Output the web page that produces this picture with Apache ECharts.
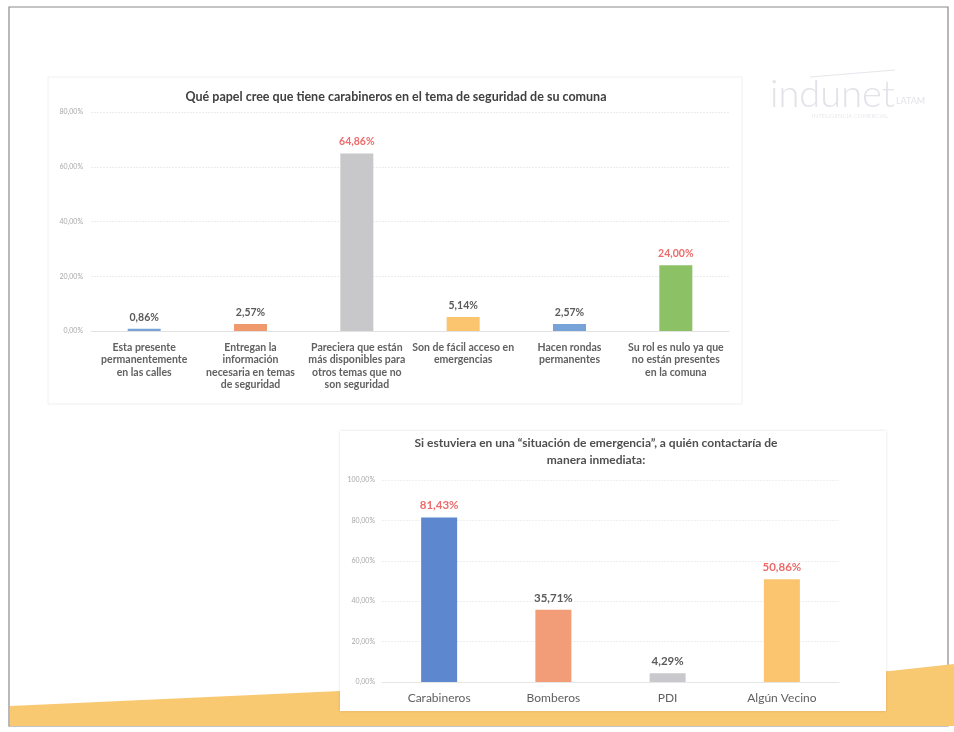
<!DOCTYPE html>
<html>
<head>
<meta charset="utf-8">
<script src="https://cdn.jsdelivr.net/npm/echarts@6/dist/echarts.min.js"></script>
<style>
html,body{margin:0;padding:0;background:#fff;}
#c{width:954px;height:732px;}
</style>
</head>
<body>
<div id="c"></div>
<script>
// ---- data ----
const title1 = 'Qué papel cree que tiene carabineros en el tema de seguridad de su comuna';
const categories1 = [
  'Esta presente\npermanentemente\nen las calles',
  'Entregan la\ninformación\nnecesaria en temas\nde seguridad',
  'Pareciera que están\nmás disponibles para\notros temas que no\nson seguridad',
  'Son de fácil acceso en\nemergencias',
  'Hacen rondas\npermanentes',
  'Su rol es nulo ya que\nno están presentes\nen la comuna'
];
const values1 = [0.86, 2.57, 64.86, 5.14, 2.57, 24.00];
const yTicks1 = [0, 20, 40, 60, 80];

const title2 = 'Si estuviera en una “situación de emergencia”, a quién contactaría de\nmanera inmediata:';
const categories2 = ['Carabineros', 'Bomberos', 'PDI', 'Algún Vecino'];
const values2 = [81.43, 35.71, 4.29, 50.86];
const yTicks2 = [0, 20, 40, 60, 80, 100];

// ---- styles ----
const colors1 = ['#78a3d9', '#f0996c', '#c8c8ca', '#fbc46e', '#78a3d9', '#8dc166'];
const colors2 = ['#5d88d0', '#f39c78', '#c9c9cd', '#fbc46e'];
const FONT = 'Lato, "Open Sans", sans-serif';

function pct(v) { return v.toFixed(2).replace('.', ',') + '%'; }
function topTwo(arr) {
  const s = arr.slice().sort((a, b) => b - a);
  return arr.map(v => v >= s[1]);
}
function barData(vals, cols) {
  const hi = topTwo(vals);
  return vals.map((v, i) => ({
    value: v,
    itemStyle: { color: cols[i] },
    label: { color: hi[i] ? '#ec6b6b' : '#5a5a5a' }
  }));
}

const chart = echarts.init(document.getElementById('c'), null, { renderer: 'canvas' });

const option = {
  backgroundColor: '#ffffff',
  animation: false,
  textStyle: { fontFamily: FONT },
  graphic: [
    // slide border
    { type: 'rect', z: -20, silent: true, shape: { x: 9, y: 7, width: 939, height: 719 },
      style: { fill: '#ffffff', stroke: '#8a8a8a', lineWidth: 1.2 } },
    // yellow wave
    { type: 'polygon', z: -15, silent: true,
      shape: { points: [[10, 706], [340, 691], [890, 671], [954, 664], [954, 726], [10, 726]] },
      style: { fill: '#f9c972' } },
    // chart 1 box
    { type: 'rect', z: -10, silent: true, shape: { x: 48, y: 77, width: 694, height: 327 },
      style: { fill: '#ffffff', stroke: '#f0f0f0', lineWidth: 1 } },
    // chart 2 box
    { type: 'rect', z: -10, silent: true, shape: { x: 340, y: 431, width: 546, height: 280 },
      style: { fill: '#ffffff', shadowBlur: 3, shadowColor: 'rgba(0,0,0,0.12)' } },
    // logo
    { type: 'line', z: -5, silent: true, shape: { x1: 810, y1: 77, x2: 895, y2: 70 },
      style: { stroke: '#e6e6ec', lineWidth: 1 } },
    { type: 'text', z: -5, silent: true, style: { x: 770, y: 76, text: 'indunet',
      font: '300 38px Lato, "Open Sans", sans-serif', fill: '#e2e2e8' } },
    { type: 'text', z: -5, silent: true, style: { x: 896, y: 97, text: 'LATAM',
      font: '9px Lato, sans-serif', fill: '#e2e2e8' } },
    { type: 'text', z: -5, silent: true, style: { x: 812, y: 113, text: 'INTELIGENCIA COMERCIAL',
      font: '6px Lato, sans-serif', fill: '#eaeaee' } },
    // titles
    { type: 'text', silent: true, style: { x: 396, y: 97, text: title1, align: 'center', verticalAlign: 'middle',
      font: 'bold 12.5px ' + FONT, fill: '#404040' } },
    { type: 'text', silent: true, style: { x: 596, y: 452, text: title2, align: 'center', verticalAlign: 'middle',
      font: 'bold 12px ' + FONT, fill: '#4f4f4f', lineHeight: 17 } }
  ],
  grid: [
    { left: 91, right: 225, top: 112, bottom: 401 },
    { left: 382, right: 115, top: 480, bottom: 50 }
  ],
  xAxis: [
    { type: 'category', gridIndex: 0, data: categories1,
      axisLine: { lineStyle: { color: '#e2e2e2' } }, axisTick: { show: false },
      axisLabel: { interval: 0, color: '#616161', fontSize: 10.5, lineHeight: 12.5, margin: 10, fontFamily: FONT, fontWeight: 'bold' } },
    { type: 'category', gridIndex: 1, data: categories2,
      axisLine: { lineStyle: { color: '#e6e6e6' } }, axisTick: { show: false },
      axisLabel: { interval: 0, color: '#5f5f5f', fontSize: 12, margin: 10, fontFamily: FONT } }
  ],
  yAxis: [
    { type: 'value', gridIndex: 0, min: yTicks1[0], max: yTicks1[yTicks1.length - 1], interval: yTicks1[1] - yTicks1[0],
      axisLine: { show: false }, axisTick: { show: false },
      splitLine: { lineStyle: { color: '#ececec', type: [2, 1] } },
      axisLabel: { color: '#a8a8a8', fontSize: 7, margin: 8, formatter: pct } },
    { type: 'value', gridIndex: 1, min: yTicks2[0], max: yTicks2[yTicks2.length - 1], interval: yTicks2[1] - yTicks2[0],
      axisLine: { show: false }, axisTick: { show: false },
      splitLine: { lineStyle: { color: '#efefef', type: [2, 1] } },
      axisLabel: { color: '#a8a8a8', fontSize: 7, margin: 7, formatter: pct } }
  ],
  series: [
    { type: 'bar', xAxisIndex: 0, yAxisIndex: 0, barWidth: 33,
      data: barData(values1, colors1),
      label: { show: true, position: 'top', distance: 6, fontSize: 10.5, fontWeight: 'bold', fontFamily: FONT,
        formatter: p => pct(p.value) } },
    { type: 'bar', xAxisIndex: 1, yAxisIndex: 1, barWidth: 36,
      data: barData(values2, colors2),
      label: { show: true, position: 'top', distance: 6, fontSize: 11.5, fontWeight: 'bold', fontFamily: FONT,
        formatter: p => pct(p.value) } }
  ]
};
chart.setOption(option);
</script>
</body>
</html>
